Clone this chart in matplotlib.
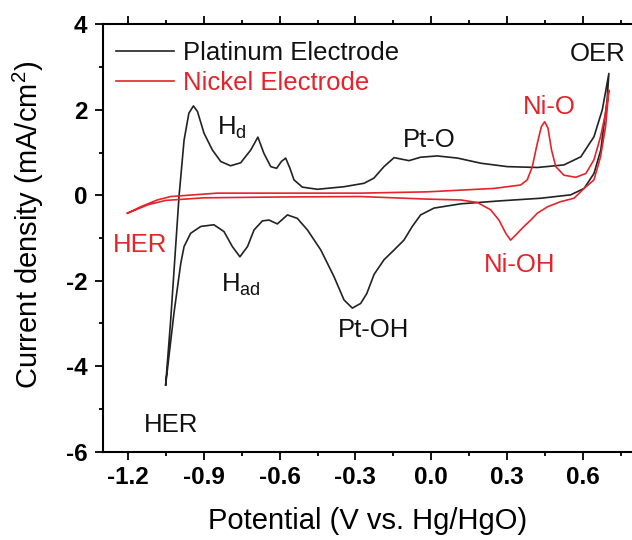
import matplotlib
matplotlib.use('Agg')
import matplotlib.pyplot as plt
from matplotlib.ticker import MultipleLocator

plt.rcParams['font.family'] = ['Liberation Sans', 'DejaVu Sans']
plt.rcParams['mathtext.default'] = 'regular'

# Platinum electrode, anodic sweep (V vs Hg/HgO, mA/cm2)
pt_fwd_v = [-1.051, -1.031, -0.998, -0.978, -0.959, -0.941, -0.925, -0.899, -0.866,
            -0.833, -0.794, -0.754, -0.714, -0.686, -0.662, -0.635, -0.612, -0.593,
            -0.576, -0.559, -0.543, -0.510, -0.450, -0.345, -0.266, -0.227, -0.187,
            -0.147, -0.088, -0.042, 0.024, 0.104, 0.196, 0.301, 0.420, 0.525, 0.592,
            0.644, 0.677, 0.703]
pt_fwd_j = [-4.44, -2.92, -0.03, 1.29, 1.92, 2.09, 1.96, 1.45, 1.06,
            0.79, 0.69, 0.76, 1.06, 1.36, 0.98, 0.67, 0.63, 0.79,
            0.87, 0.63, 0.36, 0.19, 0.14, 0.20, 0.28, 0.40, 0.67,
            0.88, 0.81, 0.89, 0.92, 0.87, 0.75, 0.67, 0.65, 0.71, 0.90,
            1.37, 2.00, 2.85]

# Platinum electrode, cathodic sweep
pt_rev_v = [0.703, 0.696, 0.671, 0.644, 0.605, 0.552, 0.433, 0.275, 0.117, 0.011,
            -0.042, -0.075, -0.108, -0.147, -0.187, -0.226, -0.255, -0.279, -0.312,
            -0.345, -0.385, -0.437, -0.490, -0.530, -0.569, -0.609, -0.642, -0.668,
            -0.701, -0.727, -0.757, -0.787, -0.820, -0.860, -0.912, -0.952, -0.978,
            -0.991, -1.018, -1.051]
pt_rev_j = [2.85, 2.23, 1.06, 0.51, 0.16, 0.01, -0.07, -0.13, -0.20, -0.30,
            -0.46, -0.73, -1.05, -1.28, -1.51, -1.85, -2.30, -2.53, -2.64,
            -2.45, -1.90, -1.28, -0.81, -0.54, -0.46, -0.67, -0.58, -0.60,
            -0.81, -1.20, -1.44, -1.20, -0.85, -0.69, -0.73, -0.89, -1.20,
            -1.59, -2.76, -4.44]

# Nickel electrode, anodic sweep
ni_fwd_v = [-1.202, -1.150, -1.084, -1.031, -0.846, -0.500, -0.279, -0.015, 0.248,
            0.354, 0.380, 0.400, 0.420, 0.436, 0.449, 0.462, 0.476, 0.493, 0.525,
            0.572, 0.612, 0.644, 0.670, 0.690, 0.703]
ni_fwd_j = [-0.42, -0.27, -0.11, -0.03, 0.05, 0.05, 0.05, 0.08, 0.16,
            0.24, 0.36, 0.67, 1.22, 1.61, 1.72, 1.57, 1.06, 0.67, 0.47,
            0.42, 0.51, 0.83, 1.37, 1.92, 2.46]

# Nickel electrode, cathodic sweep
ni_rev_v = [0.703, 0.690, 0.670, 0.644, 0.605, 0.565, 0.512, 0.460, 0.420, 0.394,
            0.367, 0.341, 0.314, 0.295, 0.268, 0.235, 0.183, 0.117, -0.015, -0.279,
            -0.600, -0.900, -1.050, -1.120, -1.202]
ni_rev_j = [2.46, 1.61, 0.90, 0.36, 0.16, -0.07, -0.15, -0.27, -0.42, -0.58,
            -0.73, -0.89, -1.05, -0.89, -0.58, -0.34, -0.17, -0.11, -0.09, -0.03,
            -0.04, -0.06, -0.12, -0.22, -0.42]

# peak labels: text, x, y, colour
labels = [('H$_{d}$', -0.846, 1.41, 'black'),
          ('H$_{ad}$', -0.833, -2.26, 'black'),
          ('Pt-OH', -0.369, -3.31, 'black'),
          ('HER', -1.137, -5.53, 'black'),
          ('HER', -1.258, -1.32, 'red'),
          ('Pt-O', -0.114, 1.12, 'black'),
          ('Ni-O', 0.361, 1.90, 'red'),
          ('OER', 0.549, 3.13, 'black'),
          ('Ni-OH', 0.209, -1.79, 'red')]

red = '#e5232b'

fig = plt.figure(figsize=(6.32, 5.40), dpi=100)
ax = fig.add_axes([0.1625, 0.1635, 0.8397, 0.7915])

pt, = ax.plot(pt_fwd_v + pt_rev_v, pt_fwd_j + pt_rev_j, color='#222222', lw=1.2,
              label='Platinum Electrode')
ni, = ax.plot(ni_fwd_v + ni_rev_v, ni_fwd_j + ni_rev_j, color=red, lw=1.2,
              label='Nickel Electrode')

for txt, x, y, c in labels:
    ax.text(x, y, txt, color=red if c == 'red' else '#111111', fontsize=18.5,
            ha='left', va='baseline')

leg = ax.legend(handles=[pt, ni], loc='upper left', bbox_to_anchor=(0.026, 0.961),
                frameon=False, fontsize=18.5, handlelength=2.25, handletextpad=0.32,
                labelspacing=0.25, borderpad=0, borderaxespad=0,
                labelcolor=['#111111', red])

ax.set_xlim(-1.3, 0.8)
ax.set_ylim(-6, 4)
ax.xaxis.set_minor_locator(MultipleLocator(0.15))
ax.yaxis.set_minor_locator(MultipleLocator(1))
ax.set_xticks([-1.2, -0.9, -0.6, -0.3, 0.0, 0.3, 0.6])
ax.set_xticklabels(['-1.2', '-0.9', '-0.6', '-0.3', '0.0', '0.3', '0.6'])
ax.set_yticks([-6, -4, -2, 0, 2, 4])
ax.set_yticklabels(['-6', '-4', '-2', '0', '2', '4'])

for s in ax.spines.values():
    s.set_linewidth(1.5)
ax.tick_params(which='both', direction='out', top=True, right=False, width=1.3)
ax.tick_params(which='major', length=6)
ax.tick_params(which='minor', length=3)
ax.tick_params(axis='x', which='major', pad=4.5)
ax.tick_params(axis='y', which='major', pad=5)
for t in ax.get_xticklabels() + ax.get_yticklabels():
    t.set_fontsize(17.5)
    t.set_fontweight('bold')

ax.set_xlabel('Potential (V vs. Hg/HgO)', fontsize=21)
ax.set_ylabel('Current density (mA/cm$^2$)', fontsize=21)
ax.xaxis.set_label_coords(0.5, -0.13)
ax.yaxis.set_label_coords(-0.107, 0.53)

fig.savefig('out.png', dpi=100)
